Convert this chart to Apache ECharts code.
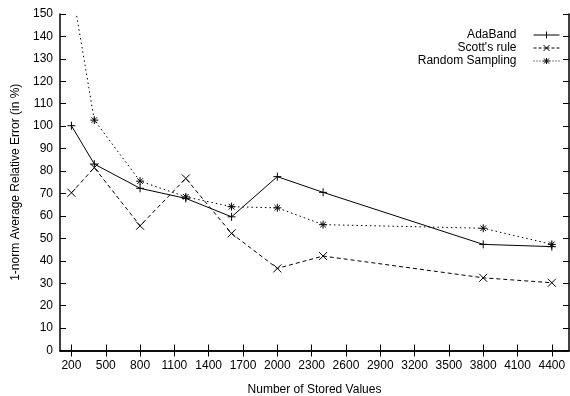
<!DOCTYPE html>
<html>
<head>
<meta charset="utf-8">
<script src="https://cdn.jsdelivr.net/npm/echarts@6/dist/echarts.min.js"></script>
<style>
  html, body { margin: 0; padding: 0; background: #fff; }
  #chart { width: 570px; height: 396px; }
</style>
</head>
<body>
<div id="chart"></div>
<script>
const storedValues = [200, 400, 800, 1200, 1600, 2000, 2400, 3800, 4400];
const adaBand = [100.2, 83.1, 72.3, 67.8, 59.6, 77.5, 70.5, 47.3, 46.3];
const scottsRule = [70.3, 81.5, 55.6, 76.7, 52.2, 36.6, 42.1, 32.4, 30.2];
const randomSampling = [163, 102.7, 75.5, 68.5, 64.1, 63.6, 56.1, 54.5, 47.3];
const xTicks = [200, 500, 800, 1100, 1400, 1700, 2000, 2300, 2600, 2900, 3200, 3500, 3800, 4100, 4400];

const font = 'Liberation Sans, Arial, sans-serif';
const plusPath = 'path://M0,5L10,5M5,0L5,10';
const crossPath = 'path://M0,0L10,10M10,0L0,10';
const starPath = 'path://M0,5L10,5M5,0L5,10M1.5,1.5L8.5,8.5M8.5,1.5L1.5,8.5';

// legend samples: line pattern + marker, drawn in a 26x8 box
const legendIcons = {
  'AdaBand': 'path://M0,4L26,4M13,0.5L13,7.5',
  "Scott's rule": 'path://M0,4L3,4M5,4L8,4M10,4L16,4M18,4L21,4M23,4L26,4M10,1L16,7M16,1L10,7',
  'Random Sampling': 'path://M0,4L1,4M3,4L4,4M6,4L7,4M9,4L17,4M19,4L20,4M22,4L23,4M25,4L26,4M13,1L13,7M10.5,1.5L15.5,6.5M15.5,1.5L10.5,6.5'
};

const pairs = vals => storedValues.map((x, i) => [x, vals[i]]);

const makeSeries = (name, vals, symbol, dash) => ({
  name: name,
  type: 'line',
  data: pairs(vals),
  symbol: symbol,
  symbolSize: 8,
  showSymbol: true,
  clip: true,
  lineStyle: { color: '#000', width: 1, type: dash },
  itemStyle: { color: '#000', borderColor: '#000', borderWidth: 1 },
  emphasis: { disabled: true },
  animation: false
});

const chart = echarts.init(document.getElementById('chart'), null, { renderer: 'canvas' });

const tickStyle = { show: true, inside: true, length: 6, lineStyle: { color: '#000', width: 1 } };
const plain = v => String(v);

chart.setOption({
  animation: false,
  grid: { left: 60, right: 1, top: 14, bottom: 45.5, containLabel: false, outerBoundsMode: 'none' },
  legend: {
    orient: 'vertical',
    right: 3,
    top: 24,
    align: 'right',
    itemWidth: 26,
    itemHeight: 8,
    itemGap: 1,
    itemStyle: { color: 'none', borderColor: '#000', borderWidth: 1 },
    textStyle: { fontFamily: font, fontSize: 12, color: '#000', padding: [0, 12, 0, 0] },
    data: Object.keys(legendIcons).map(n => ({ name: n, icon: legendIcons[n] }))
  },
  xAxis: [
    {
      type: 'value',
      min: 100,
      max: 4550,
      name: 'Number of Stored Values',
      nameLocation: 'middle',
      nameGap: 33,
      nameTextStyle: { fontFamily: font, fontSize: 12, color: '#000' },
      axisLine: { lineStyle: { color: '#000', width: 1.5 } },
      axisTick: Object.assign({ customValues: xTicks }, tickStyle),
      axisLabel: { customValues: xTicks, formatter: plain, fontFamily: font, fontSize: 12, color: '#000', margin: 9 },
      splitLine: { show: false }
    },
    {
      type: 'value',
      position: 'top',
      min: 100,
      max: 4550,
      axisLine: { show: true, lineStyle: { color: '#000', width: 1.5 } },
      axisTick: Object.assign({ customValues: xTicks }, tickStyle),
      axisLabel: { show: false },
      splitLine: { show: false }
    }
  ],
  yAxis: [
    {
      type: 'value',
      min: 0,
      max: 150,
      interval: 10,
      name: '1-norm Average Relative Error (in %)',
      nameLocation: 'middle',
      nameGap: 33,
      nameTextStyle: { fontFamily: font, fontSize: 12, color: '#000' },
      axisLine: { show: true, lineStyle: { color: '#000', width: 1.5 } },
      axisTick: tickStyle,
      axisLabel: { formatter: plain, fontFamily: font, fontSize: 12, color: '#000', margin: 7 },
      splitLine: { show: false }
    },
    {
      type: 'value',
      position: 'right',
      min: 0,
      max: 150,
      interval: 10,
      axisLine: { show: true, lineStyle: { color: '#000', width: 1.5 } },
      axisTick: tickStyle,
      axisLabel: { show: false },
      splitLine: { show: false }
    }
  ],
  series: [
    makeSeries('AdaBand', adaBand, plusPath, 'solid'),
    makeSeries("Scott's rule", scottsRule, crossPath, [4, 3]),
    makeSeries('Random Sampling', randomSampling, starPath, [1.5, 3])
  ]
});
</script>
</body>
</html>
